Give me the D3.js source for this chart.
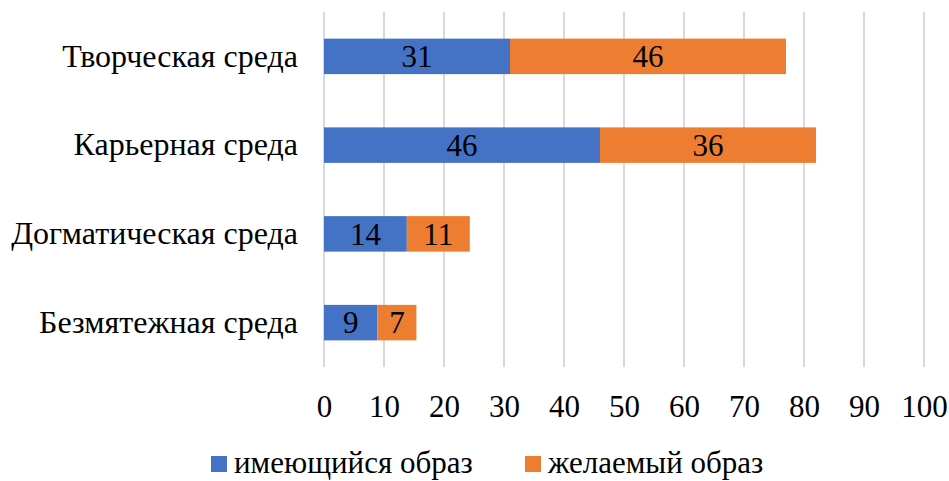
<!DOCTYPE html>
<html>
<head>
<meta charset="utf-8">
<script src="https://cdn.jsdelivr.net/npm/d3@7"></script>
<style>
  body { margin: 0; background: #fff; }
</style>
</head>
<body>
<div class="chart"></div>
<script>
// data
const categories = ["Творческая среда", "Карьерная среда", "Догматическая среда", "Безмятежная среда"];
const current = [31, 46, 13.8, 8.9];
const desired = [46, 36, 10.5, 6.5];
const seriesNames = ["имеющийся образ", "желаемый образ"];
const xTicks = [0, 10, 20, 30, 40, 50, 60, 70, 80, 90, 100];

const svgWidth = 949;
const svgHeight = 481;
const margin = { top: 12, right: 25, bottom: 114, left: 324 };
const width = svgWidth - margin.left - margin.right;
const height = svgHeight - margin.top - margin.bottom;
const colors = ["#4472C4", "#ED7D31"];
const serif = "'Liberation Serif', 'Times New Roman', 'DejaVu Serif', serif";

const svg = d3.select(".chart")
  .append("svg")
  .attr("width", svgWidth)
  .attr("height", svgHeight)
  .style("font-family", serif);

const chartGroup = svg.append("g")
  .attr("transform", `translate(${margin.left}, ${margin.top})`);

// scales
const xScale = d3.scaleLinear()
  .domain([0, 100])
  .range([0, width]);

const yScale = d3.scaleBand()
  .domain(categories)
  .range([0, height])
  .paddingInner(0.6)
  .paddingOuter(0.3);

// gridlines
chartGroup.selectAll(".grid")
  .data(xTicks)
  .enter()
  .append("line")
  .attr("x1", d => xScale(d))
  .attr("x2", d => xScale(d))
  .attr("y1", 0)
  .attr("y2", height)
  .attr("stroke", "#d9d9d9")
  .attr("stroke-width", 2);

// x axis tick labels
const xAxis = d3.axisBottom(xScale).tickValues(xTicks).tickSize(0).tickPadding(28);
const xg = chartGroup.append("g")
  .attr("transform", `translate(0, ${height})`)
  .call(xAxis);
xg.select(".domain").remove();
xg.selectAll("text")
  .style("font-family", serif)
  .style("font-size", "31px")
  .attr("fill", "#000");

// y axis labels
const yAxis = d3.axisLeft(yScale).tickSize(0).tickPadding(26);
const yg = chartGroup.append("g").call(yAxis);
yg.select(".domain").remove();
yg.selectAll("text")
  .style("font-family", serif)
  .style("font-size", "32px")
  .attr("fill", "#000");

// stacked data
const rows = categories.map((c, i) => ({ cat: c, current: current[i], desired: desired[i] }));
const stacked = d3.stack().keys(["current", "desired"])(rows);

const layers = chartGroup.selectAll(".layer")
  .data(stacked)
  .enter()
  .append("g")
  .attr("fill", (d, i) => colors[i]);

layers.selectAll("rect")
  .data(d => d)
  .enter()
  .append("rect")
  .attr("x", d => xScale(d[0]))
  .attr("y", d => yScale(d.data.cat))
  .attr("width", d => xScale(d[1]) - xScale(d[0]))
  .attr("height", yScale.bandwidth());

layers.selectAll(".lbl")
  .data(d => d)
  .enter()
  .append("text")
  .attr("x", d => (xScale(d[0]) + xScale(d[1])) / 2)
  .attr("y", d => yScale(d.data.cat) + yScale.bandwidth() / 2)
  .attr("dy", "0.35em")
  .attr("text-anchor", "middle")
  .style("font-family", serif)
  .style("font-size", "31px")
  .attr("fill", "#000")
  .text(d => Math.round(d[1] - d[0]));

// legend
const legend = svg.append("g");
const legendX = [211, 525];
seriesNames.forEach((name, i) => {
  legend.append("rect")
    .attr("x", legendX[i])
    .attr("y", 456)
    .attr("width", 16)
    .attr("height", 16)
    .attr("fill", colors[i]);
  legend.append("text")
    .attr("x", legendX[i] + 23)
    .attr("y", 473)
    .style("font-family", serif)
    .style("font-size", "31px")
    .attr("fill", "#000")
    .text(name);
});
</script>
</body>
</html>
